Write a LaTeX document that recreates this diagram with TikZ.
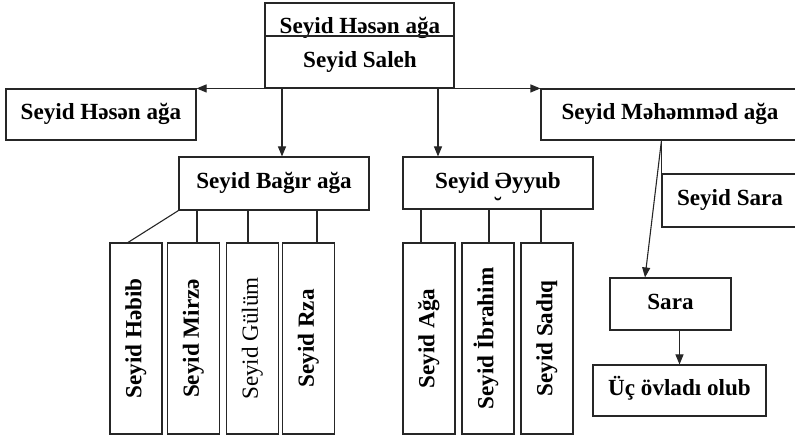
\documentclass[tikz,border=0pt]{standalone}
\usepackage{fontspec}
\setmainfont{Liberation Serif}
\usetikzlibrary{arrows.meta}
\begin{document}
\begin{tikzpicture}[x=1bp,y=-1bp,
  txt/.style={inner sep=0pt, font=\bfseries\fontsize{23.2}{26}\selectfont},
  box/.style={txt, draw=black!85, line width=1.1bp, text height=15.5bp, text depth=5bp},
  vbox/.style={box, rotate=90, minimum width=191bp, minimum height=52bp},
  ln/.style={draw=black!85, line width=1.1bp},
  arr/.style={ln, -{Triangle[length=10bp,width=8bp]}}]
\path[use as bounding box] (0,0) rectangle (795,436);
% top
\node[box, minimum width=189bp, minimum height=85bp] (top) at (359.5,45.5) {};
\node[txt, anchor=base] (tA) at (360,34) {Seyid Həsən ağa};
\node[txt, anchor=base] (tB) at (360,68) {Seyid Saleh};
\draw[ln] (top.west |- 0,36) -- (top.east |- 0,36);
% second row
\node[box, minimum width=190bp, minimum height=51bp] (hasan) at (101,114.5) {Seyid Həsən ağa};
\node[box, minimum width=258bp, minimum height=51bp] (mamed) at (670,114.5) {Seyid Məhəmməd ağa};
\node[box, minimum width=190bp, minimum height=53bp] (bagir) at (274,183.5) {Seyid Bağır ağa};
\node[box, minimum width=190bp, minimum height=52bp] (ayyub) at (498,183) {Seyid Əyyub};
\node[txt, anchor=base] (brv) at (498,213.5) {˘};
\node[box, minimum width=136bp, minimum height=53bp] (sara1) at (730,200.5) {Seyid Sara};
\node[box, minimum width=121bp, minimum height=52bp] (sara) at (670.5,304) {Sara};
\node[box, minimum width=173bp, minimum height=51bp] (uc) at (679.5,390.5) {Üç övladı olub};
% children
\node[vbox] (c1) at (136,338.5) {Seyid Həbib};
\node[vbox] (c2) at (193.5,338.5) {Seyid Mirzə};
\node[vbox, font=\fontsize{23.2}{26}\selectfont] (c3) at (252.5,338.5) {Seyid Gülüm};
\node[vbox] (c4) at (308.5,338.5) {Seyid Rza};
\node[vbox] (d1) at (429,338.5) {Seyid Ağa};
\node[vbox] (d2) at (488,338.5) {Seyid İbrahim};
\node[vbox] (d3) at (547,338.5) {Seyid Sadıq};
% connectors
\draw[arr] (top.south |- hasan.north) -- (hasan.north east);
\draw[arr] (top.south |- mamed.north) -- (mamed.north west);
\draw[arr] (282,0 |- hasan.north) -- (282,0 |- bagir.north);
\draw[arr] (438,0 |- hasan.north) -- (438,0 |- ayyub.north);
\draw[ln] (bagir.south west) -- (128,0 |- c1.east);
\draw[ln] (197,0 |- bagir.south) -- (197,0 |- c2.east);
\draw[ln] (248,0 |- bagir.south) -- (248,0 |- c3.east);
\draw[ln] (317,0 |- bagir.south) -- (317,0 |- c4.east);
\draw[ln] (421,0 |- ayyub.south) -- (421,0 |- d1.east);
\draw[ln] (489,0 |- ayyub.south) -- (489,0 |- d2.east);
\draw[ln] (541,0 |- ayyub.south) -- (541,0 |- d3.east);
\draw[ln] (sara1.north west |- mamed.south) -- (sara1.north west);
\draw[arr] (sara1.north west |- mamed.south) -- (645,0 |- sara.north);
\draw[arr] (uc.north |- sara.south) -- (uc.north);
\end{tikzpicture}
\end{document}
